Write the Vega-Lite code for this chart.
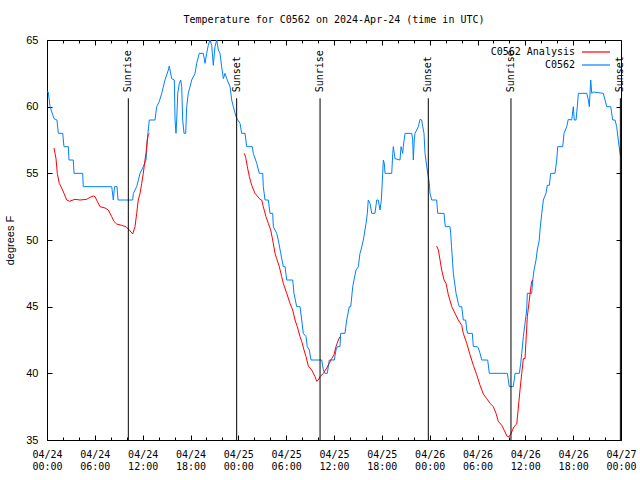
{
  "$schema": "https://vega.github.io/schema/vega-lite/v6.json",
  "width": 574,
  "height": 400,
  "autosize": {"type": "none"},
  "padding": {"left": 47, "top": 40, "right": 19, "bottom": 40},
  "background": "white",
  "config": {
    "view": {"stroke": "black", "strokeWidth": 1},
    "axis": {"grid": false, "domain": false, "tickColor": "black", "tickWidth": 1, "labelColor": "black", "titleColor": "black"}
  },
  "title": {
    "text": "Temperature for C0562 on 2024-Apr-24 (time in UTC)",
    "font": "DejaVu Sans Mono",
    "fontSize": 10,
    "fontWeight": "normal",
    "color": "black",
    "anchor": "middle",
    "offset": 9
  },
  "datasets": {
    "obs": [
      {"h":0,"t":61.1,"s":"C0562","g":"b"},
      {"h":0.16,"t":61.1,"s":"C0562","g":"b"},
      {"h":0.38,"t":60.0,"s":"C0562","g":"b"},
      {"h":0.88,"t":59.1,"s":"C0562","g":"b"},
      {"h":1.25,"t":59.0,"s":"C0562","g":"b"},
      {"h":1.42,"t":58.0,"s":"C0562","g":"b"},
      {"h":1.97,"t":58.0,"s":"C0562","g":"b"},
      {"h":2.13,"t":57.0,"s":"C0562","g":"b"},
      {"h":2.67,"t":57.0,"s":"C0562","g":"b"},
      {"h":2.76,"t":56.0,"s":"C0562","g":"b"},
      {"h":3.30,"t":56.0,"s":"C0562","g":"b"},
      {"h":3.39,"t":55.0,"s":"C0562","g":"b"},
      {"h":4.48,"t":55.0,"s":"C0562","g":"b"},
      {"h":4.55,"t":54.0,"s":"C0562","g":"b"},
      {"h":8.12,"t":54.0,"s":"C0562","g":"b"},
      {"h":8.32,"t":53.0,"s":"C0562","g":"b"},
      {"h":8.47,"t":54.0,"s":"C0562","g":"b"},
      {"h":8.78,"t":54.0,"s":"C0562","g":"b"},
      {"h":8.91,"t":53.0,"s":"C0562","g":"b"},
      {"h":10.75,"t":53.0,"s":"C0562","g":"b"},
      {"h":10.83,"t":53.5,"s":"C0562","g":"b"},
      {"h":11.25,"t":54.0,"s":"C0562","g":"b"},
      {"h":11.67,"t":55.0,"s":"C0562","g":"b"},
      {"h":12.08,"t":55.5,"s":"C0562","g":"b"},
      {"h":12.42,"t":56.0,"s":"C0562","g":"b"},
      {"h":12.58,"t":57.5,"s":"C0562","g":"b"},
      {"h":12.83,"t":59.0,"s":"C0562","g":"b"},
      {"h":13.55,"t":59.0,"s":"C0562","g":"b"},
      {"h":13.76,"t":60.0,"s":"C0562","g":"b"},
      {"h":14.09,"t":60.4,"s":"C0562","g":"b"},
      {"h":14.39,"t":61.0,"s":"C0562","g":"b"},
      {"h":14.80,"t":62.0,"s":"C0562","g":"b"},
      {"h":15.22,"t":62.75,"s":"C0562","g":"b"},
      {"h":15.34,"t":63.05,"s":"C0562","g":"b"},
      {"h":15.64,"t":62.1,"s":"C0562","g":"b"},
      {"h":15.97,"t":62.0,"s":"C0562","g":"b"},
      {"h":16.06,"t":59.0,"s":"C0562","g":"b"},
      {"h":16.18,"t":58.0,"s":"C0562","g":"b"},
      {"h":16.27,"t":59.0,"s":"C0562","g":"b"},
      {"h":16.40,"t":61.0,"s":"C0562","g":"b"},
      {"h":16.60,"t":61.75,"s":"C0562","g":"b"},
      {"h":16.77,"t":62.0,"s":"C0562","g":"b"},
      {"h":16.90,"t":61.5,"s":"C0562","g":"b"},
      {"h":17.02,"t":59.0,"s":"C0562","g":"b"},
      {"h":17.19,"t":58.0,"s":"C0562","g":"b"},
      {"h":17.40,"t":58.0,"s":"C0562","g":"b"},
      {"h":17.52,"t":60.0,"s":"C0562","g":"b"},
      {"h":17.72,"t":61.0,"s":"C0562","g":"b"},
      {"h":17.94,"t":61.5,"s":"C0562","g":"b"},
      {"h":18.15,"t":62.0,"s":"C0562","g":"b"},
      {"h":18.57,"t":62.5,"s":"C0562","g":"b"},
      {"h":18.78,"t":63.25,"s":"C0562","g":"b"},
      {"h":19.10,"t":64.0,"s":"C0562","g":"b"},
      {"h":19.61,"t":64.0,"s":"C0562","g":"b"},
      {"h":19.82,"t":63.25,"s":"C0562","g":"b"},
      {"h":20.03,"t":64.0,"s":"C0562","g":"b"},
      {"h":20.23,"t":64.6,"s":"C0562","g":"b"},
      {"h":20.45,"t":65.0,"s":"C0562","g":"b"},
      {"h":20.66,"t":64.6,"s":"C0562","g":"b"},
      {"h":20.86,"t":63.1,"s":"C0562","g":"b"},
      {"h":21.07,"t":64.5,"s":"C0562","g":"b"},
      {"h":21.29,"t":65.0,"s":"C0562","g":"b"},
      {"h":21.49,"t":64.25,"s":"C0562","g":"b"},
      {"h":21.70,"t":64.0,"s":"C0562","g":"b"},
      {"h":21.91,"t":63.0,"s":"C0562","g":"b"},
      {"h":22.12,"t":62.1,"s":"C0562","g":"b"},
      {"h":22.33,"t":62.5,"s":"C0562","g":"b"},
      {"h":22.54,"t":62.1,"s":"C0562","g":"b"},
      {"h":22.96,"t":61.5,"s":"C0562","g":"b"},
      {"h":23.17,"t":60.5,"s":"C0562","g":"b"},
      {"h":23.37,"t":60.0,"s":"C0562","g":"b"},
      {"h":23.71,"t":59.25,"s":"C0562","g":"b"},
      {"h":23.87,"t":59.05,"s":"C0562","g":"b"},
      {"h":24.21,"t":58.75,"s":"C0562","g":"b"},
      {"h":24.42,"t":58.0,"s":"C0562","g":"b"},
      {"h":24.84,"t":58.0,"s":"C0562","g":"b"},
      {"h":25.05,"t":57.0,"s":"C0562","g":"b"},
      {"h":25.75,"t":57.0,"s":"C0562","g":"b"},
      {"h":25.88,"t":56.5,"s":"C0562","g":"b"},
      {"h":26.31,"t":55.75,"s":"C0562","g":"b"},
      {"h":26.63,"t":55.0,"s":"C0562","g":"b"},
      {"h":27.06,"t":55.0,"s":"C0562","g":"b"},
      {"h":27.13,"t":54.0,"s":"C0562","g":"b"},
      {"h":27.35,"t":53.0,"s":"C0562","g":"b"},
      {"h":27.76,"t":53.0,"s":"C0562","g":"b"},
      {"h":27.97,"t":52.0,"s":"C0562","g":"b"},
      {"h":28.31,"t":52.0,"s":"C0562","g":"b"},
      {"h":28.39,"t":51.0,"s":"C0562","g":"b"},
      {"h":28.81,"t":50.5,"s":"C0562","g":"b"},
      {"h":29.01,"t":50.0,"s":"C0562","g":"b"},
      {"h":29.32,"t":49.0,"s":"C0562","g":"b"},
      {"h":29.64,"t":48.0,"s":"C0562","g":"b"},
      {"h":29.86,"t":48.0,"s":"C0562","g":"b"},
      {"h":30.07,"t":47.0,"s":"C0562","g":"b"},
      {"h":30.82,"t":47.0,"s":"C0562","g":"b"},
      {"h":30.98,"t":46.0,"s":"C0562","g":"b"},
      {"h":31.32,"t":45.0,"s":"C0562","g":"b"},
      {"h":31.74,"t":45.0,"s":"C0562","g":"b"},
      {"h":31.95,"t":44.0,"s":"C0562","g":"b"},
      {"h":32.15,"t":43.0,"s":"C0562","g":"b"},
      {"h":32.49,"t":42.75,"s":"C0562","g":"b"},
      {"h":32.65,"t":42.0,"s":"C0562","g":"b"},
      {"h":32.90,"t":41.75,"s":"C0562","g":"b"},
      {"h":33.12,"t":41.0,"s":"C0562","g":"b"},
      {"h":34.46,"t":41.0,"s":"C0562","g":"b"},
      {"h":34.66,"t":40.25,"s":"C0562","g":"b"},
      {"h":34.87,"t":40.0,"s":"C0562","g":"b"},
      {"h":35.16,"t":40.0,"s":"C0562","g":"b"},
      {"h":35.41,"t":41.0,"s":"C0562","g":"b"},
      {"h":36.04,"t":41.0,"s":"C0562","g":"b"},
      {"h":36.25,"t":41.75,"s":"C0562","g":"b"},
      {"h":36.42,"t":42.0,"s":"C0562","g":"b"},
      {"h":36.75,"t":42.0,"s":"C0562","g":"b"},
      {"h":36.84,"t":43.0,"s":"C0562","g":"b"},
      {"h":37.38,"t":43.0,"s":"C0562","g":"b"},
      {"h":37.59,"t":44.0,"s":"C0562","g":"b"},
      {"h":37.92,"t":45.0,"s":"C0562","g":"b"},
      {"h":38.10,"t":45.0,"s":"C0562","g":"b"},
      {"h":38.35,"t":46.5,"s":"C0562","g":"b"},
      {"h":38.51,"t":47.0,"s":"C0562","g":"b"},
      {"h":38.76,"t":47.75,"s":"C0562","g":"b"},
      {"h":39.05,"t":48.0,"s":"C0562","g":"b"},
      {"h":39.26,"t":49.0,"s":"C0562","g":"b"},
      {"h":39.39,"t":49.25,"s":"C0562","g":"b"},
      {"h":39.68,"t":50.0,"s":"C0562","g":"b"},
      {"h":40.02,"t":51.25,"s":"C0562","g":"b"},
      {"h":40.18,"t":52.0,"s":"C0562","g":"b"},
      {"h":40.30,"t":53.0,"s":"C0562","g":"b"},
      {"h":40.52,"t":52.75,"s":"C0562","g":"b"},
      {"h":40.73,"t":52.0,"s":"C0562","g":"b"},
      {"h":41.14,"t":52.0,"s":"C0562","g":"b"},
      {"h":41.36,"t":53.0,"s":"C0562","g":"b"},
      {"h":41.56,"t":53.0,"s":"C0562","g":"b"},
      {"h":41.77,"t":52.25,"s":"C0562","g":"b"},
      {"h":41.94,"t":53.0,"s":"C0562","g":"b"},
      {"h":42.11,"t":55.0,"s":"C0562","g":"b"},
      {"h":42.19,"t":56.0,"s":"C0562","g":"b"},
      {"h":42.31,"t":55.75,"s":"C0562","g":"b"},
      {"h":42.40,"t":55.0,"s":"C0562","g":"b"},
      {"h":43.24,"t":55.0,"s":"C0562","g":"b"},
      {"h":43.37,"t":56.5,"s":"C0562","g":"b"},
      {"h":43.44,"t":57.0,"s":"C0562","g":"b"},
      {"h":43.65,"t":56.1,"s":"C0562","g":"b"},
      {"h":44.28,"t":56.0,"s":"C0562","g":"b"},
      {"h":44.41,"t":57.0,"s":"C0562","g":"b"},
      {"h":44.62,"t":56.5,"s":"C0562","g":"b"},
      {"h":44.69,"t":57.0,"s":"C0562","g":"b"},
      {"h":44.91,"t":58.0,"s":"C0562","g":"b"},
      {"h":45.75,"t":58.0,"s":"C0562","g":"b"},
      {"h":45.87,"t":57.5,"s":"C0562","g":"b"},
      {"h":45.95,"t":56.0,"s":"C0562","g":"b"},
      {"h":46.07,"t":57.5,"s":"C0562","g":"b"},
      {"h":46.16,"t":58.0,"s":"C0562","g":"b"},
      {"h":46.58,"t":58.5,"s":"C0562","g":"b"},
      {"h":46.79,"t":59.05,"s":"C0562","g":"b"},
      {"h":47.00,"t":59.0,"s":"C0562","g":"b"},
      {"h":47.13,"t":58.5,"s":"C0562","g":"b"},
      {"h":47.29,"t":58.0,"s":"C0562","g":"b"},
      {"h":47.42,"t":56.5,"s":"C0562","g":"b"},
      {"h":47.63,"t":55.5,"s":"C0562","g":"b"},
      {"h":47.83,"t":54.75,"s":"C0562","g":"b"},
      {"h":47.96,"t":54.25,"s":"C0562","g":"b"},
      {"h":48.04,"t":53.5,"s":"C0562","g":"b"},
      {"h":48.26,"t":53.0,"s":"C0562","g":"b"},
      {"h":48.88,"t":53.0,"s":"C0562","g":"b"},
      {"h":49.01,"t":52.0,"s":"C0562","g":"b"},
      {"h":49.80,"t":52.0,"s":"C0562","g":"b"},
      {"h":49.96,"t":51.0,"s":"C0562","g":"b"},
      {"h":50.55,"t":51.0,"s":"C0562","g":"b"},
      {"h":50.64,"t":50.5,"s":"C0562","g":"b"},
      {"h":50.74,"t":49.5,"s":"C0562","g":"b"},
      {"h":50.80,"t":49.0,"s":"C0562","g":"b"},
      {"h":50.97,"t":47.5,"s":"C0562","g":"b"},
      {"h":51.31,"t":46.0,"s":"C0562","g":"b"},
      {"h":51.59,"t":45.25,"s":"C0562","g":"b"},
      {"h":51.72,"t":45.0,"s":"C0562","g":"b"},
      {"h":52.02,"t":45.0,"s":"C0562","g":"b"},
      {"h":52.22,"t":44.0,"s":"C0562","g":"b"},
      {"h":52.52,"t":44.0,"s":"C0562","g":"b"},
      {"h":52.65,"t":43.25,"s":"C0562","g":"b"},
      {"h":52.77,"t":43.0,"s":"C0562","g":"b"},
      {"h":53.35,"t":43.0,"s":"C0562","g":"b"},
      {"h":53.48,"t":42.0,"s":"C0562","g":"b"},
      {"h":53.98,"t":42.0,"s":"C0562","g":"b"},
      {"h":54.10,"t":41.9,"s":"C0562","g":"b"},
      {"h":54.32,"t":41.5,"s":"C0562","g":"b"},
      {"h":54.53,"t":41.0,"s":"C0562","g":"b"},
      {"h":55.28,"t":41.0,"s":"C0562","g":"b"},
      {"h":55.48,"t":40.0,"s":"C0562","g":"b"},
      {"h":57.74,"t":40.0,"s":"C0562","g":"b"},
      {"h":57.99,"t":39.0,"s":"C0562","g":"b"},
      {"h":58.49,"t":39.0,"s":"C0562","g":"b"},
      {"h":58.71,"t":40.0,"s":"C0562","g":"b"},
      {"h":59.25,"t":40.0,"s":"C0562","g":"b"},
      {"h":59.42,"t":40.75,"s":"C0562","g":"b"},
      {"h":59.55,"t":41.5,"s":"C0562","g":"b"},
      {"h":59.75,"t":42.75,"s":"C0562","g":"b"},
      {"h":59.96,"t":43.75,"s":"C0562","g":"b"},
      {"h":60.17,"t":44.75,"s":"C0562","g":"b"},
      {"h":60.25,"t":46.0,"s":"C0562","g":"b"},
      {"h":60.80,"t":46.0,"s":"C0562","g":"b"},
      {"h":60.93,"t":47.0,"s":"C0562","g":"b"},
      {"h":61.09,"t":47.75,"s":"C0562","g":"b"},
      {"h":61.34,"t":48.5,"s":"C0562","g":"b"},
      {"h":61.50,"t":49.25,"s":"C0562","g":"b"},
      {"h":61.75,"t":50.0,"s":"C0562","g":"b"},
      {"h":61.84,"t":50.75,"s":"C0562","g":"b"},
      {"h":62.06,"t":52.0,"s":"C0562","g":"b"},
      {"h":62.26,"t":53.0,"s":"C0562","g":"b"},
      {"h":62.59,"t":53.5,"s":"C0562","g":"b"},
      {"h":62.76,"t":54.1,"s":"C0562","g":"b"},
      {"h":63.01,"t":54.1,"s":"C0562","g":"b"},
      {"h":63.18,"t":55.0,"s":"C0562","g":"b"},
      {"h":63.72,"t":55.0,"s":"C0562","g":"b"},
      {"h":63.94,"t":56.0,"s":"C0562","g":"b"},
      {"h":64.06,"t":57.0,"s":"C0562","g":"b"},
      {"h":64.69,"t":57.0,"s":"C0562","g":"b"},
      {"h":64.85,"t":58.0,"s":"C0562","g":"b"},
      {"h":65.19,"t":58.5,"s":"C0562","g":"b"},
      {"h":65.39,"t":59.05,"s":"C0562","g":"b"},
      {"h":65.82,"t":59.0,"s":"C0562","g":"b"},
      {"h":66.02,"t":60.0,"s":"C0562","g":"b"},
      {"h":66.14,"t":59.0,"s":"C0562","g":"b"},
      {"h":66.36,"t":59.0,"s":"C0562","g":"b"},
      {"h":66.52,"t":60.0,"s":"C0562","g":"b"},
      {"h":66.65,"t":61.0,"s":"C0562","g":"b"},
      {"h":67.70,"t":61.0,"s":"C0562","g":"b"},
      {"h":67.90,"t":60.5,"s":"C0562","g":"b"},
      {"h":68.03,"t":60.0,"s":"C0562","g":"b"},
      {"h":68.20,"t":62.0,"s":"C0562","g":"b"},
      {"h":68.33,"t":61.0,"s":"C0562","g":"b"},
      {"h":68.53,"t":61.1,"s":"C0562","g":"b"},
      {"h":69.78,"t":61.0,"s":"C0562","g":"b"},
      {"h":70.00,"t":60.5,"s":"C0562","g":"b"},
      {"h":70.21,"t":60.0,"s":"C0562","g":"b"},
      {"h":70.71,"t":60.0,"s":"C0562","g":"b"},
      {"h":70.96,"t":59.0,"s":"C0562","g":"b"},
      {"h":71.25,"t":59.0,"s":"C0562","g":"b"},
      {"h":71.46,"t":58.5,"s":"C0562","g":"b"},
      {"h":71.66,"t":57.5,"s":"C0562","g":"b"},
      {"h":71.88,"t":56.5,"s":"C0562","g":"b"},
      {"h":71.97,"t":56.25,"s":"C0562","g":"b"},

      {"h":0.88,"t":56.9,"s":"C0562 Analysis","g":"r1"},
      {"h":1.13,"t":56.1,"s":"C0562 Analysis","g":"r1"},
      {"h":1.29,"t":55.0,"s":"C0562 Analysis","g":"r1"},
      {"h":1.54,"t":54.25,"s":"C0562 Analysis","g":"r1"},
      {"h":1.84,"t":53.9,"s":"C0562 Analysis","g":"r1"},
      {"h":2.13,"t":53.5,"s":"C0562 Analysis","g":"r1"},
      {"h":2.47,"t":53.0,"s":"C0562 Analysis","g":"r1"},
      {"h":2.80,"t":52.9,"s":"C0562 Analysis","g":"r1"},
      {"h":3.51,"t":53.05,"s":"C0562 Analysis","g":"r1"},
      {"h":4.14,"t":53.0,"s":"C0562 Analysis","g":"r1"},
      {"h":4.98,"t":53.05,"s":"C0562 Analysis","g":"r1"},
      {"h":5.39,"t":53.2,"s":"C0562 Analysis","g":"r1"},
      {"h":5.81,"t":53.3,"s":"C0562 Analysis","g":"r1"},
      {"h":6.02,"t":53.25,"s":"C0562 Analysis","g":"r1"},
      {"h":6.31,"t":52.9,"s":"C0562 Analysis","g":"r1"},
      {"h":6.65,"t":52.5,"s":"C0562 Analysis","g":"r1"},
      {"h":7.28,"t":52.4,"s":"C0562 Analysis","g":"r1"},
      {"h":7.69,"t":52.25,"s":"C0562 Analysis","g":"r1"},
      {"h":8.12,"t":51.75,"s":"C0562 Analysis","g":"r1"},
      {"h":8.40,"t":51.4,"s":"C0562 Analysis","g":"r1"},
      {"h":8.74,"t":51.2,"s":"C0562 Analysis","g":"r1"},
      {"h":9.37,"t":51.1,"s":"C0562 Analysis","g":"r1"},
      {"h":9.91,"t":51.0,"s":"C0562 Analysis","g":"r1"},
      {"h":10.32,"t":50.75,"s":"C0562 Analysis","g":"r1"},
      {"h":10.75,"t":50.45,"s":"C0562 Analysis","g":"r1"},
      {"h":11.04,"t":51.0,"s":"C0562 Analysis","g":"r1"},
      {"h":11.25,"t":52.0,"s":"C0562 Analysis","g":"r1"},
      {"h":11.45,"t":53.0,"s":"C0562 Analysis","g":"r1"},
      {"h":11.67,"t":53.5,"s":"C0562 Analysis","g":"r1"},
      {"h":11.88,"t":54.25,"s":"C0562 Analysis","g":"r1"},
      {"h":12.08,"t":55.0,"s":"C0562 Analysis","g":"r1"},
      {"h":12.29,"t":56.0,"s":"C0562 Analysis","g":"r1"},
      {"h":12.42,"t":56.5,"s":"C0562 Analysis","g":"r1"},
      {"h":12.58,"t":57.5,"s":"C0562 Analysis","g":"r1"},
      {"h":12.71,"t":57.9,"s":"C0562 Analysis","g":"r1"},
      {"h":12.83,"t":58.0,"s":"C0562 Analysis","g":"r1"},

      {"h":24.75,"t":56.5,"s":"C0562 Analysis","g":"r2"},
      {"h":24.92,"t":56.2,"s":"C0562 Analysis","g":"r2"},
      {"h":25.13,"t":55.5,"s":"C0562 Analysis","g":"r2"},
      {"h":25.38,"t":54.75,"s":"C0562 Analysis","g":"r2"},
      {"h":25.68,"t":54.1,"s":"C0562 Analysis","g":"r2"},
      {"h":26.09,"t":53.5,"s":"C0562 Analysis","g":"r2"},
      {"h":26.72,"t":53.05,"s":"C0562 Analysis","g":"r2"},
      {"h":26.93,"t":53.0,"s":"C0562 Analysis","g":"r2"},
      {"h":27.13,"t":52.5,"s":"C0562 Analysis","g":"r2"},
      {"h":27.47,"t":51.75,"s":"C0562 Analysis","g":"r2"},
      {"h":27.76,"t":51.25,"s":"C0562 Analysis","g":"r2"},
      {"h":28.06,"t":50.75,"s":"C0562 Analysis","g":"r2"},
      {"h":28.31,"t":50.0,"s":"C0562 Analysis","g":"r2"},
      {"h":28.60,"t":49.0,"s":"C0562 Analysis","g":"r2"},
      {"h":28.81,"t":48.6,"s":"C0562 Analysis","g":"r2"},
      {"h":29.14,"t":48.0,"s":"C0562 Analysis","g":"r2"},
      {"h":29.44,"t":47.25,"s":"C0562 Analysis","g":"r2"},
      {"h":29.64,"t":46.75,"s":"C0562 Analysis","g":"r2"},
      {"h":30.07,"t":46.0,"s":"C0562 Analysis","g":"r2"},
      {"h":30.48,"t":45.25,"s":"C0562 Analysis","g":"r2"},
      {"h":30.82,"t":44.75,"s":"C0562 Analysis","g":"r2"},
      {"h":31.11,"t":44.0,"s":"C0562 Analysis","g":"r2"},
      {"h":31.40,"t":43.5,"s":"C0562 Analysis","g":"r2"},
      {"h":31.74,"t":42.75,"s":"C0562 Analysis","g":"r2"},
      {"h":31.95,"t":42.4,"s":"C0562 Analysis","g":"r2"},
      {"h":32.24,"t":41.75,"s":"C0562 Analysis","g":"r2"},
      {"h":32.49,"t":41.25,"s":"C0562 Analysis","g":"r2"},
      {"h":32.78,"t":40.55,"s":"C0562 Analysis","g":"r2"},
      {"h":33.20,"t":40.25,"s":"C0562 Analysis","g":"r2"},
      {"h":33.62,"t":39.75,"s":"C0562 Analysis","g":"r2"},
      {"h":33.83,"t":39.4,"s":"C0562 Analysis","g":"r2"},
      {"h":34.03,"t":39.5,"s":"C0562 Analysis","g":"r2"},
      {"h":34.25,"t":39.75,"s":"C0562 Analysis","g":"r2"},
      {"h":34.66,"t":40.0,"s":"C0562 Analysis","g":"r2"},
      {"h":35.09,"t":40.4,"s":"C0562 Analysis","g":"r2"},
      {"h":35.41,"t":40.75,"s":"C0562 Analysis","g":"r2"},
      {"h":35.71,"t":41.1,"s":"C0562 Analysis","g":"r2"},
      {"h":36.00,"t":41.4,"s":"C0562 Analysis","g":"r2"},
      {"h":36.25,"t":42.0,"s":"C0562 Analysis","g":"r2"},
      {"h":36.54,"t":42.5,"s":"C0562 Analysis","g":"r2"},
      {"h":36.75,"t":42.75,"s":"C0562 Analysis","g":"r2"},

      {"h":48.88,"t":49.55,"s":"C0562 Analysis","g":"r3"},
      {"h":49.09,"t":49.25,"s":"C0562 Analysis","g":"r3"},
      {"h":49.30,"t":48.5,"s":"C0562 Analysis","g":"r3"},
      {"h":49.51,"t":47.75,"s":"C0562 Analysis","g":"r3"},
      {"h":49.80,"t":47.0,"s":"C0562 Analysis","g":"r3"},
      {"h":50.05,"t":46.75,"s":"C0562 Analysis","g":"r3"},
      {"h":50.34,"t":45.9,"s":"C0562 Analysis","g":"r3"},
      {"h":50.77,"t":45.0,"s":"C0562 Analysis","g":"r3"},
      {"h":51.18,"t":44.5,"s":"C0562 Analysis","g":"r3"},
      {"h":51.59,"t":44.0,"s":"C0562 Analysis","g":"r3"},
      {"h":52.02,"t":43.6,"s":"C0562 Analysis","g":"r3"},
      {"h":52.22,"t":43.0,"s":"C0562 Analysis","g":"r3"},
      {"h":52.65,"t":42.25,"s":"C0562 Analysis","g":"r3"},
      {"h":53.06,"t":41.4,"s":"C0562 Analysis","g":"r3"},
      {"h":53.48,"t":40.6,"s":"C0562 Analysis","g":"r3"},
      {"h":53.90,"t":39.9,"s":"C0562 Analysis","g":"r3"},
      {"h":54.32,"t":39.1,"s":"C0562 Analysis","g":"r3"},
      {"h":54.73,"t":38.45,"s":"C0562 Analysis","g":"r3"},
      {"h":55.16,"t":38.1,"s":"C0562 Analysis","g":"r3"},
      {"h":55.57,"t":37.75,"s":"C0562 Analysis","g":"r3"},
      {"h":55.98,"t":37.5,"s":"C0562 Analysis","g":"r3"},
      {"h":56.32,"t":37.0,"s":"C0562 Analysis","g":"r3"},
      {"h":56.61,"t":36.4,"s":"C0562 Analysis","g":"r3"},
      {"h":57.04,"t":36.1,"s":"C0562 Analysis","g":"r3"},
      {"h":57.45,"t":35.6,"s":"C0562 Analysis","g":"r3"},
      {"h":57.74,"t":35.25,"s":"C0562 Analysis","g":"r3"},
      {"h":57.99,"t":35.25,"s":"C0562 Analysis","g":"r3"},
      {"h":58.29,"t":35.6,"s":"C0562 Analysis","g":"r3"},
      {"h":58.58,"t":36.0,"s":"C0562 Analysis","g":"r3"},
      {"h":58.92,"t":36.2,"s":"C0562 Analysis","g":"r3"},
      {"h":59.12,"t":37.4,"s":"C0562 Analysis","g":"r3"},
      {"h":59.33,"t":38.75,"s":"C0562 Analysis","g":"r3"},
      {"h":59.55,"t":40.0,"s":"C0562 Analysis","g":"r3"},
      {"h":59.75,"t":41.1,"s":"C0562 Analysis","g":"r3"},
      {"h":59.96,"t":41.1,"s":"C0562 Analysis","g":"r3"},
      {"h":60.09,"t":42.5,"s":"C0562 Analysis","g":"r3"},
      {"h":60.25,"t":44.25,"s":"C0562 Analysis","g":"r3"},
      {"h":60.50,"t":45.5,"s":"C0562 Analysis","g":"r3"},
      {"h":60.68,"t":46.4,"s":"C0562 Analysis","g":"r3"},
      {"h":60.80,"t":46.9,"s":"C0562 Analysis","g":"r3"},
      {"h":60.93,"t":47.0,"s":"C0562 Analysis","g":"r3"}
    ],
    "sun": [
      {"h":10.20,"label":"Sunrise"},
      {"h":23.79,"label":"Sunset"},
      {"h":34.25,"label":"Sunrise"},
      {"h":47.83,"label":"Sunset"},
      {"h":58.20,"label":"Sunrise"},
      {"h":71.92,"label":"Sunset"}
    ]
  },
  "layer": [
    {
      "data": {"name": "obs"},
      "mark": {"type": "line", "strokeWidth": 1, "interpolate": "linear"},
      "encoding": {
        "x": {
          "field": "h", "type": "quantitative",
          "scale": {"domain": [0, 72], "nice": false, "zero": false},
          "axis": {
            "orient": "bottom", "title": null, "ticks": false, "domain": false,
            "values": [0, 6, 12, 18, 24, 30, 36, 42, 48, 54, 60, 66, 72],
            "labelExpr": "['04/' + (24 + floor(datum.value / 24)), ((datum.value % 24) < 10 ? '0' : '') + (datum.value % 24) + ':00']",
            "labelFont": "DejaVu Sans Mono", "labelFontSize": 10, "labelLineHeight": 12,
            "labelPadding": 9, "labelFlush": false, "labelOverlap": false, "labelBound": false
          }
        },
        "y": {
          "field": "t", "type": "quantitative",
          "scale": {"domain": [35, 65], "nice": false, "zero": false},
          "axis": {
            "orient": "left", "title": "degrees F", "ticks": false, "domain": false,
            "values": [35, 40, 45, 50, 55, 60, 65],
            "labelFont": "Liberation Sans", "labelFontSize": 11, "labelPadding": 9,
            "labelFlush": false, "labelOverlap": false,
            "titleFont": "Liberation Sans", "titleFontSize": 11, "titleFontWeight": "normal", "titlePadding": 10
          }
        },
        "color": {
          "field": "s", "type": "nominal",
          "scale": {"domain": ["C0562 Analysis", "C0562"], "range": ["#ff0000", "#0080ff"]},
          "legend": {
            "title": null, "orient": "none", "legendX": 541, "legendY": 4,
            "direction": "vertical", "symbolType": "M-2,0H2", "symbolSize": 196, "symbolStrokeWidth": 1.2,
            "symbolFillColor": "transparent",
            "labelFont": "DejaVu Sans Mono", "labelFontSize": 10, "labelColor": "black",
            "labelAlign": "right", "labelOffset": -29, "rowPadding": -2, "padding": 0
          }
        },
        "detail": {"field": "g"}
      }
    },
    {
      "data": {"name": "sun"},
      "mark": {"type": "rule", "color": "black", "strokeWidth": 1},
      "encoding": {
        "x": {
          "field": "h", "type": "quantitative",
          "scale": {"domain": [0, 72], "nice": false, "zero": false},
          "axis": {
            "orient": "bottom", "title": null, "labels": false, "domain": false,
            "values": [0, 2, 4, 6, 8, 10, 12, 14, 16, 18, 20, 22, 24, 26, 28, 30, 32, 34, 36, 38, 40, 42, 44, 46, 48, 50, 52, 54, 56, 58, 60, 62, 64, 66, 68, 70, 72],
            "tickSize": {"condition": {"test": "datum.value % 6 === 0", "value": -5}, "value": -3}
          }
        },
        "y": {
          "datum": 35, "type": "quantitative",
          "scale": {"domain": [35, 65], "nice": false, "zero": false},
          "axis": {
            "orient": "left", "title": null, "labels": false, "domain": false,
            "values": [35, 40, 45, 50, 55, 60, 65], "tickSize": -5
          }
        },
        "y2": {"datum": 60.63}
      }
    },
    {
      "data": {"name": "sun"},
      "mark": {"type": "text", "font": "DejaVu Sans Mono", "fontSize": 10, "color": "black", "angle": 270, "align": "left", "baseline": "middle", "dx": 6},
      "encoding": {
        "x": {
          "field": "h", "type": "quantitative",
          "scale": {"domain": [0, 72], "nice": false, "zero": false},
          "axis": {
            "orient": "top", "title": null, "labels": false, "domain": false,
            "values": [0, 2, 4, 6, 8, 10, 12, 14, 16, 18, 20, 22, 24, 26, 28, 30, 32, 34, 36, 38, 40, 42, 44, 46, 48, 50, 52, 54, 56, 58, 60, 62, 64, 66, 68, 70, 72],
            "tickSize": {"condition": {"test": "datum.value % 6 === 0", "value": -5}, "value": -3}
          }
        },
        "y": {
          "datum": 60.63, "type": "quantitative",
          "scale": {"domain": [35, 65], "nice": false, "zero": false},
          "axis": {
            "orient": "right", "title": null, "labels": false, "domain": false,
            "values": [35, 40, 45, 50, 55, 60, 65], "tickSize": -5
          }
        },
        "text": {"field": "label"}
      }
    }
  ],
  "resolve": {"axis": {"x": "independent", "y": "independent"}}
}
